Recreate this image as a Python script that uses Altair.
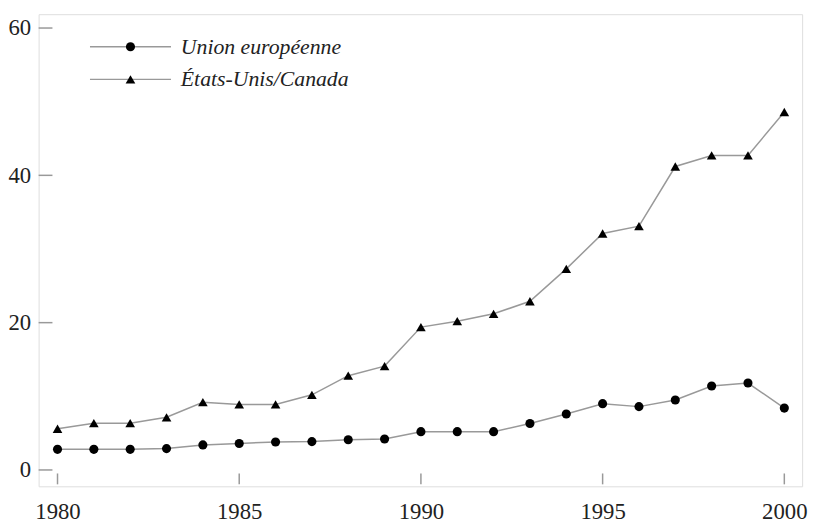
import altair as alt
import pandas as pd

years = list(range(1980, 2001))
eu = [2.8, 2.8, 2.8, 2.9, 3.4, 3.6, 3.8, 3.85, 4.1, 4.2, 5.2, 5.2, 5.2, 6.3, 7.6, 9.0, 8.6, 9.5, 11.4, 11.8, 8.4]
us = [5.6, 6.35, 6.35, 7.15, 9.2, 8.9, 8.9, 10.2, 12.8, 14.1, 19.4, 20.2, 21.2, 22.9, 27.3, 32.1, 33.1, 41.2, 42.7, 42.7, 48.6]
series_names = ["Union européenne", "États-Unis/Canada"]
series_shapes = ["circle", "triangle-up"]
series_sizes = [85, 95]
y_ticks = [0, 20, 40, 60]
x_ticks = [1980, 1985, 1990, 1995, 2000]

W, H = 773, 478
FONT = "'Liberation Serif', 'Times New Roman', Times, serif"

df = pd.DataFrame({
    "year": years * 2,
    "value": eu + us,
    "series": [series_names[0]] * len(years) + [series_names[1]] * len(years),
})

xs = alt.Scale(domain=[1979.48, 2000.49], nice=False, zero=False)
ys = alt.Scale(domain=[-2.22, 61.88], nice=False, zero=False)

x_axis = alt.Axis(values=x_ticks, format="d", tickSize=0, labelPadding=15, domain=False,
                  grid=False, labelFont=FONT, labelFontSize=23, labelColor="#222", title=None)
y_axis = alt.Axis(values=y_ticks, tickSize=0, labelPadding=8, domain=False,
                  grid=False, labelFont=FONT, labelFontSize=23, labelColor="#222", title=None)

base = alt.Chart(df)

lines = base.mark_line(color="#999", strokeWidth=1.5).encode(
    x=alt.X("year:Q", scale=xs, axis=x_axis),
    y=alt.Y("value:Q", scale=ys, axis=y_axis),
    detail="series:N",
)

points = base.mark_point(filled=True, color="black", opacity=1).encode(
    x=alt.X("year:Q", scale=xs),
    y=alt.Y("value:Q", scale=ys),
    shape=alt.Shape("series:N", scale=alt.Scale(domain=series_names, range=series_shapes), legend=None),
    size=alt.Size("series:N", scale=alt.Scale(domain=series_names, range=series_sizes), legend=None),
)

ytick_df = pd.DataFrame({"v": y_ticks})
ytick_marks = alt.Chart(ytick_df).mark_rule(color="#999", strokeWidth=1.5).encode(
    y=alt.Y("v:Q", scale=ys),
    x=alt.value(0),
    x2=alt.value(14),
)

xtick_df = pd.DataFrame({"v": x_ticks})
xtick_marks = alt.Chart(xtick_df).mark_rule(color="#999", strokeWidth=1.5).encode(
    x=alt.X("v:Q", scale=xs),
    y=alt.value(H - 2),
    y2=alt.value(H - 13),
)

legend_layers = []
for i, (name, shp, sz) in enumerate(zip(series_names, series_shapes, series_sizes)):
    ldf = pd.DataFrame({"label": [name]})
    yy = 33 + i * 33
    lc = alt.Chart(ldf)
    legend_layers.append(lc.mark_rule(color="#999", strokeWidth=1.5).encode(
        x=alt.value(52), x2=alt.value(134), y=alt.value(yy)))
    legend_layers.append(lc.mark_point(filled=True, color="black", opacity=1, size=sz, shape=shp).encode(
        x=alt.value(93), y=alt.value(yy)))
    legend_layers.append(lc.mark_text(align="left", baseline="middle", font=FONT, fontSize=22,
                                      fontStyle="italic", color="#222").encode(
        x=alt.value(144), y=alt.value(yy), text="label:N"))

chart = alt.layer(lines, points, ytick_marks, xtick_marks, *legend_layers).properties(
    width=W, height=H,
    padding={"top": 3, "left": 0, "right": 5, "bottom": 5},
).configure_view(stroke="#aaa", strokeWidth=2).configure(background="white")

chart.save("out.html", embed_options={"renderer": "svg", "actions": False})
